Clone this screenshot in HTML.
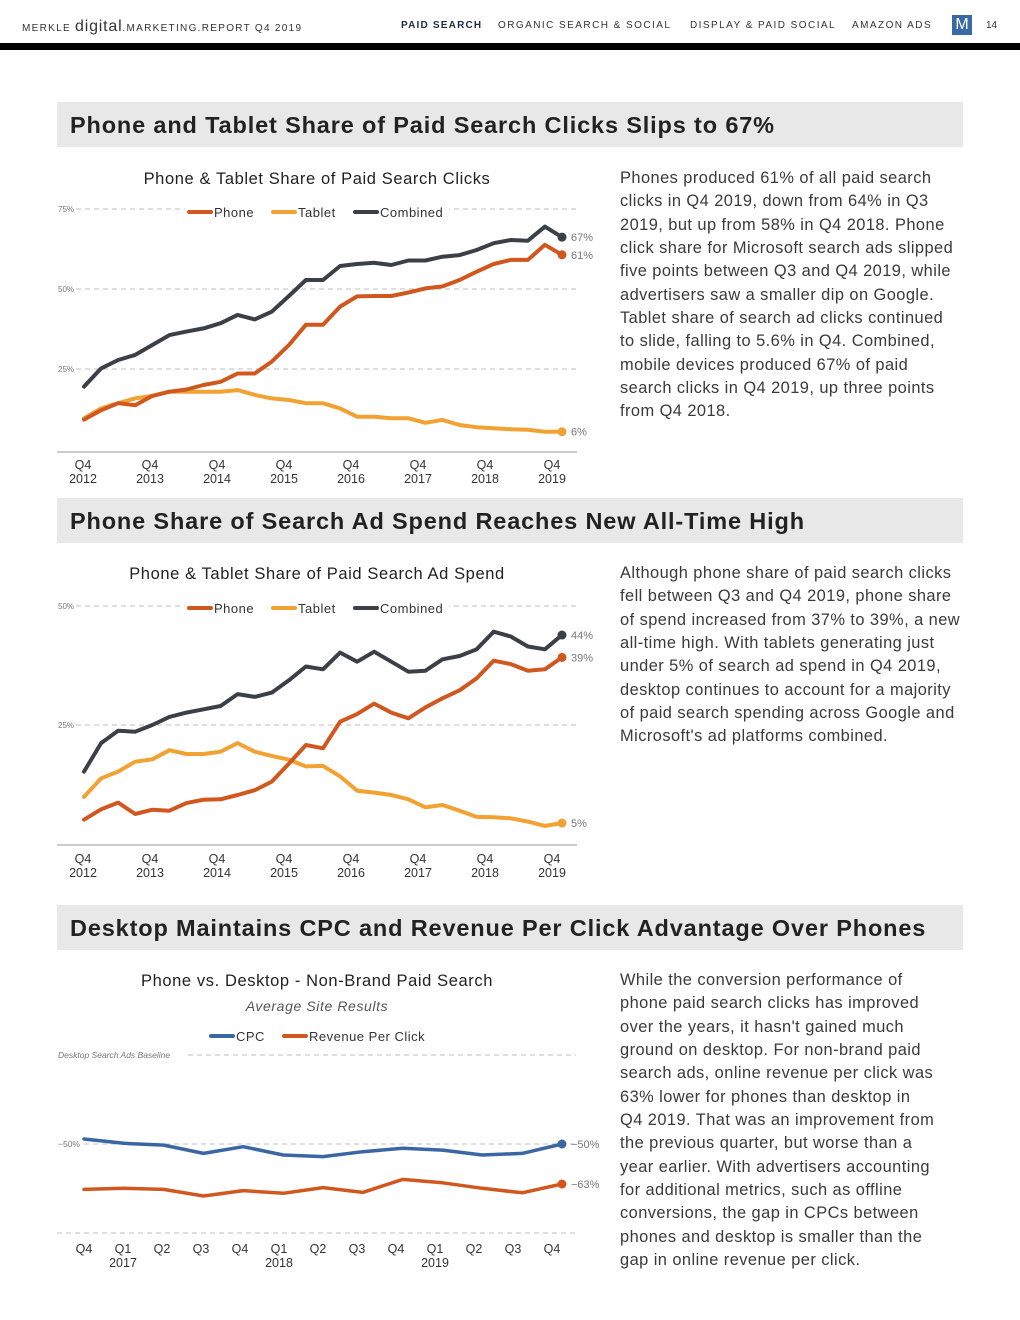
<!DOCTYPE html>
<html><head><meta charset="utf-8">
<style>
*{margin:0;padding:0;box-sizing:border-box}
body{width:1020px;height:1320px;background:#fff;font-family:"Liberation Sans",sans-serif;position:relative;overflow:hidden;color:#333}
.abs{position:absolute}
.hdr{top:20px;font-size:10px;letter-spacing:1.45px;color:#333;white-space:nowrap}
.bar{left:0;top:43px;width:1020px;height:7px;background:#000}
.sec{left:57px;width:906px;height:45px;background:#e8e8e8;font-weight:bold;font-size:23.5px;color:#222;padding-left:13px;line-height:47px;letter-spacing:0.85px}
.para{left:620px;font-size:16.4px;line-height:23.35px;color:#3a3a3a;white-space:nowrap;letter-spacing:0.45px}
svg{position:absolute;left:0;top:0}
</style></head><body>
<div class="abs hdr" style="left:22px;top:18px;letter-spacing:1.3px">MERKLE <span style="font-size:16px;letter-spacing:0.8px">digital</span>.MARKETING.REPORT Q4 2019</div>
<div class="abs hdr" style="left:401px;font-weight:bold;color:#1d2a50;letter-spacing:1.2px">PAID SEARCH</div>
<div class="abs hdr" style="left:498px">ORGANIC SEARCH &amp; SOCIAL</div>
<div class="abs hdr" style="left:690px">DISPLAY &amp; PAID SOCIAL</div>
<div class="abs hdr" style="left:852px">AMAZON ADS</div>
<div class="abs" style="left:952px;top:15px;width:20px;height:20px;background:#3a6aa6;color:#fff;font-size:16px;text-align:center;line-height:20px">M</div>
<div class="abs hdr" style="left:986px;letter-spacing:0">14</div>
<div class="abs bar"></div>

<div class="abs sec" style="top:102px">Phone and Tablet Share of Paid Search Clicks Slips to 67%</div>
<div class="abs sec" style="top:498px">Phone Share of Search Ad Spend Reaches New All-Time High</div>
<div class="abs sec" style="top:905px">Desktop Maintains CPC and Revenue Per Click Advantage Over Phones</div>

<div class="abs para" style="top:167px">Phones produced 61% of all paid search<br>clicks in Q4 2019, down from 64% in Q3<br>2019, but up from 58% in Q4 2018. Phone<br>click share for Microsoft search ads slipped<br>five points between Q3 and Q4 2019, while<br>advertisers saw a smaller dip on Google.<br>Tablet share of search ad clicks continued<br>to slide, falling to 5.6% in Q4. Combined,<br>mobile devices produced 67% of paid<br>search clicks in Q4 2019, up three points<br>from Q4 2018.</div>
<div class="abs para" style="top:562px">Although phone share of paid search clicks<br>fell between Q3 and Q4 2019, phone share<br>of spend increased from 37% to 39%, a new<br>all-time high. With tablets generating just<br>under 5% of search ad spend in Q4 2019,<br>desktop continues to account for a majority<br>of paid search spending across Google and<br>Microsoft's ad platforms combined.</div>
<div class="abs para" style="top:969px">While the conversion performance of<br>phone paid search clicks has improved<br>over the years, it hasn't gained much<br>ground on desktop. For non-brand paid<br>search ads, online revenue per click was<br>63% lower for phones than desktop in<br>Q4 2019. That was an improvement from<br>the previous quarter, but worse than a<br>year earlier. With advertisers accounting<br>for additional metrics, such as offline<br>conversions, the gap in CPCs between<br>phones and desktop is smaller than the<br>gap in online revenue per click.</div>

<svg id="svg" width="1020" height="1320"></svg>

<script>
// Chart 1: clicks
const c1Phone=[9.2,12.1,14.3,13.7,16.6,17.9,18.6,20,21,23.6,23.6,27.3,32.5,38.8,38.8,44.5,47.7,47.8,47.8,48.9,50.2,50.8,52.8,55.4,57.8,59.1,59.1,63.8,60.7];
const c1Tablet=[9.6,12.7,14.3,15.8,16.6,17.9,17.9,17.9,17.9,18.4,16.9,15.8,15.3,14.3,14.3,12.7,10.1,10.1,9.6,9.6,8.2,9.1,7.5,6.8,6.5,6.2,6,5.4,5.4];
const c1Combined=[19.5,25.2,27.8,29.4,32.5,35.6,36.7,37.7,39.3,41.9,40.5,42.9,47.8,52.8,52.8,57.2,57.8,58.2,57.5,58.9,58.9,60.1,60.6,62.2,64.3,65.3,65.1,69.5,66.2];
const c1EndLabels=["61%","6%","67%"];
const c1Ticks=[25,50,75];
// Chart 2: spend
const c2Phone=[5.1,7.3,8.7,6.3,7.2,7,8.6,9.3,9.4,10.3,11.3,13.1,16.9,20.8,20.1,25.7,27.3,29.5,27.6,26.4,28.7,30.6,32.3,34.8,38.5,37.8,36.4,36.7,39.2];
const c2Tablet=[9.9,13.8,15.2,17.3,17.8,19.7,18.9,18.9,19.4,21.2,19.4,18.5,17.7,16.3,16.4,14.2,11.2,10.8,10.3,9.4,7.7,8.2,7,5.7,5.6,5.4,4.7,3.8,4.4];
const c2Combined=[15.2,21.2,23.8,23.6,25,26.7,27.6,28.3,29,31.5,30.9,31.8,34.4,37.3,36.7,40.2,38.3,40.4,38.3,36.2,36.4,38.8,39.5,40.9,44.6,43.6,41.5,40.9,43.9];
const c2EndLabels=["39%","5%","44%"];
const c2Ticks=[25,50];
const yearQLabels=["Q4","Q4","Q4","Q4","Q4","Q4","Q4","Q4"];
const yearLabels=["2012","2013","2014","2015","2016","2017","2018","2019"];
// Chart 3: phone vs desktop
const c3Cpc=[-47.2,-49.6,-50.6,-55.3,-51.5,-56.2,-57.1,-54.3,-52.4,-53.4,-56.2,-55.3,-50];
const c3Rpc=[-75.5,-74.9,-75.5,-79.2,-76.2,-77.7,-74.5,-77.2,-69.9,-71.8,-74.9,-77.4,-72.5];
const c3EndLabels=["\u221250%","\u221263%"];
const c3Quarters=["Q4","Q1","Q2","Q3","Q4","Q1","Q2","Q3","Q4","Q1","Q2","Q3","Q4"];
const c3Years=["","2017","","","","2018","","","","2019","","",""];

const NS="http://www.w3.org/2000/svg";
const svg=document.getElementById('svg');
function mk(tag,attrs,parent){const e=document.createElementNS(NS,tag);for(const k in attrs)e.setAttribute(k,attrs[k]);(parent||svg).appendChild(e);return e;}
function txt(x,y,s,attrs){const t=mk('text',Object.assign({x:x,y:y,'font-family':'Liberation Sans, sans-serif'},attrs));t.textContent=s;return t;}
const PH='#d0581f',TB='#f2a233',CB='#3b4047',CPC='#3a67a3';

function lineChart(o){
  const g=mk('g',{});
  
  
  const n=o.series[0].vals.length;
  const xs=i=>o.x0+(o.x1-o.x0)*i/(n-1);
  const ys=v=>o.yZero-(v-o.vZero)*o.pxPer;
  o.ticks.forEach(t=>{
    const y=ys(t);
    const l=mk('line',{x1:o.gx0+18,x2:576,y1:y,y2:y,stroke:'#aaa','stroke-dasharray':'5,4','stroke-width':0.8},g);
    
    
    const tl=txt(o.gx0,y+3,t+'%',{'font-size':8,fill:'#777'});g.appendChild(tl);
    
    
  });
  const ax=mk('line',{x1:57,x2:577,y1:o.axisY,y2:o.axisY,stroke:'#999','stroke-width':1},g);
  
  
  o.series.forEach((s,si)=>{
    const pts=s.vals.map((v,i)=>xs(i).toFixed(1)+','+ys(v).toFixed(1)).join(' ');
    const p=mk('polyline',{points:pts,fill:'none',stroke:s.color,'stroke-width':4,'stroke-linejoin':'round','stroke-linecap':'round'},g);
    
    
    const lv=s.vals[n-1];
    const c=mk('circle',{cx:xs(n-1),cy:ys(lv),r:4.5,fill:s.color},g);
    
    
    const lt=txt(xs(n-1)+9,ys(lv)+4+(s.dy||0),s.label,{'font-size':11,fill:'#777'});g.appendChild(lt);
    
    
  });
  return {xs,ys};
}
function legend(y,items,x0){
  let x=x0;
  items.forEach(it=>{
    const bg=mk('rect',{x:x-4,y:y-9,width:it.w,height:14,fill:'#fff'});
    
    
    const l=mk('line',{x1:x,x2:x+22,y1:y-1,y2:y-1,stroke:it.color,'stroke-width':4,'stroke-linecap':'round'});
    
    
    const t=txt(x+25,y+4,it.label,{'font-size':13,fill:'#333','letter-spacing':0.5});
    
    
    x+=it.w;
  });
}
function title(cx,y,s,name,extra){const t=txt(cx,y,s,Object.assign({'font-size':16.5,fill:'#222','text-anchor':'middle','letter-spacing':0.6},extra||{}));}
function xLabels(lx,count,top,bottom,yTop){
  for(let k=0;k<count;k++){
    const a=txt(lx(k),yTop,top[k],{'font-size':12.5,fill:'#333','text-anchor':'middle'});
    
    
    if(bottom[k]){const b=txt(lx(k),yTop+14,bottom[k],{'font-size':12.5,fill:'#333','text-anchor':'middle'});
    
    }
  }
}
// Chart 1
title(317,184,'Phone & Tablet Share of Paid Search Clicks','chart1-title');
const ch1=lineChart({name:'clicks-chart',x0:84,x1:562,yZero:449,vZero:0,pxPer:3.2,gx0:58,axisY:452,ticks:c1Ticks,
 series:[{id:'tablet',vals:c1Tablet,color:TB,label:c1EndLabels[1]},{id:'phone',vals:c1Phone,color:PH,label:c1EndLabels[0],dy:0},{id:'combined',vals:c1Combined,color:CB,label:c1EndLabels[2]}]});
legend(213,[{id:'phone',label:'Phone',color:PH,w:84},{id:'tablet',label:'Tablet',color:TB,w:82},{id:'combined',label:'Combined',color:CB,w:98}],189);
xLabels(k=>83+k*67,8,yearQLabels,yearLabels,469);
// Chart 2
title(317,579,'Phone & Tablet Share of Paid Search Ad Spend','chart2-title');
const ch2=lineChart({name:'spend-chart',x0:84,x1:562,yZero:844,vZero:0,pxPer:4.76,gx0:58,axisY:845,ticks:c2Ticks,
 series:[{id:'tablet',vals:c2Tablet,color:TB,label:c2EndLabels[1]},{id:'phone',vals:c2Phone,color:PH,label:c2EndLabels[0]},{id:'combined',vals:c2Combined,color:CB,label:c2EndLabels[2]}]});
legend(609,[{id:'phone',label:'Phone',color:PH,w:84},{id:'tablet',label:'Tablet',color:TB,w:82},{id:'combined',label:'Combined',color:CB,w:98}],189);
xLabels(k=>83+k*67,8,yearQLabels,yearLabels,863);
// Chart 3
title(317,986,'Phone vs. Desktop - Non-Brand Paid Search','chart3-title');
title(317,1011,'Average Site Results','chart3-subtitle',{'font-size':14,'font-style':'italic',fill:'#555'});
(function(){
  const g=mk('g',{});
  
  
  const n=c3Cpc.length;
  const xs=i=>84+(562-84)*i/(n-1);
  const ys=v=>1055-v*1.78;
  const base=txt(58,1058,'Desktop Search Ads Baseline',{'font-size':8.5,'font-style':'italic',fill:'#777'});g.appendChild(base);
  
  
  [[188,ys(0)],[84,ys(-50)],[57,ys(-100)]].forEach(([x,y])=>{
    const l=mk('line',{x1:x,x2:576,y1:y,y2:y,stroke:'#aaa','stroke-dasharray':'5,4','stroke-width':0.8},g);
    
    
  });
  const tl=txt(58,ys(-50)+3,'\u221250%',{'font-size':8.5,fill:'#777'});g.appendChild(tl);
  
  
  [{id:'cpc',vals:c3Cpc,color:CPC,label:c3EndLabels[0]},{id:'rpc',vals:c3Rpc,color:PH,label:c3EndLabels[1]}].forEach(s=>{
    const pts=s.vals.map((v,i)=>xs(i).toFixed(1)+','+ys(v).toFixed(1)).join(' ');
    const p=mk('polyline',{points:pts,fill:'none',stroke:s.color,'stroke-width':3.5,'stroke-linejoin':'round','stroke-linecap':'round'},g);
    
    
    const c=mk('circle',{cx:xs(n-1),cy:ys(s.vals[n-1]),r:4.5,fill:s.color},g);
    
    
    const t=txt(xs(n-1)+9,ys(s.vals[n-1])+4,s.label,{'font-size':11,fill:'#777'});g.appendChild(t);
    
    
  });
  legend(1037,[{id:'cpc',label:'CPC',color:CPC,w:73},{id:'rpc',label:'Revenue Per Click',color:PH,w:150}],211);
  xLabels(k=>84+k*39,13,c3Quarters,c3Years,1253);
})();
</script>
</body></html>
